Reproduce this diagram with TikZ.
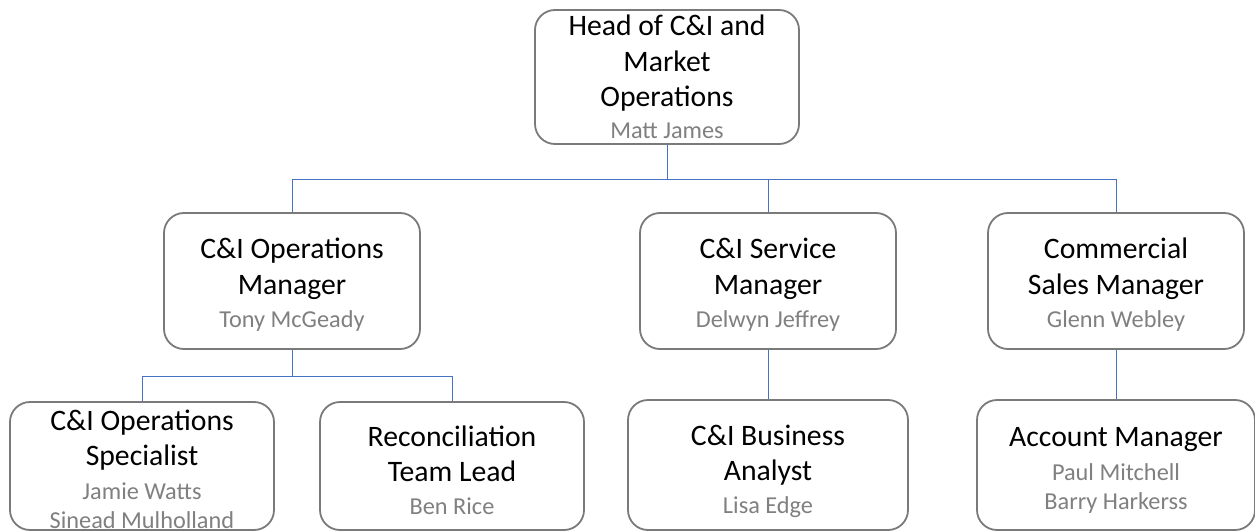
\documentclass[tikz,border=0pt]{standalone}
\usepackage{fontspec}
\setmainfont{Carlito}
\definecolor{boxgray}{HTML}{7A7A7A}
\definecolor{namegray}{HTML}{808080}
\definecolor{connblue}{HTML}{4472C4}
\tikzset{
  box/.style={draw=boxgray, line width=1.8pt, rounded corners=20pt, fill=white, inner sep=0pt},
  ttl/.style={anchor=base, inner sep=0pt, text=black, font=\fontsize{29.7}{36}\selectfont},
  nm/.style={anchor=base, inner sep=0pt, text=namegray, font=\fontsize{24.3}{28}\selectfont},
  conn/.style={draw=connblue, line width=1pt}
}
\begin{document}
\begin{tikzpicture}[x=1pt,y=-1pt]
\useasboundingbox (0,0) rectangle (1255,532);
\begin{scope}
\clip (0,0) rectangle (1255,532);
% boxes
\node[box, minimum width=264pt, minimum height=134pt] (head) at (667,77) {};
\node[box, minimum width=256pt, minimum height=136pt] (opsmgr) at (292,281) {};
\node[box, minimum width=256pt, minimum height=136pt] (svcmgr) at (768,281) {};
\node[box, minimum width=256pt, minimum height=136pt] (commgr) at (1116,281) {};
\node[box, minimum width=264pt, minimum height=128pt] (spec) at (142,466) {};
\node[box, minimum width=264pt, minimum height=128pt] (recon) at (452,466) {};
\node[box, minimum width=280pt, minimum height=130pt] (analyst) at (768,465) {};
\node[box, minimum width=278pt, minimum height=130pt] (account) at (1116,465) {};
% connectors
\coordinate (j1) at (667,179);
\coordinate (j2) at (292,376);
\draw[conn] (head.south) -- (j1);
\draw[conn] (j1) -| (opsmgr.north);
\draw[conn] (j1) -| (svcmgr.north);
\draw[conn] (j1) -| (commgr.north);
\draw[conn] (opsmgr.south) -- (j2);
\draw[conn] (j2) -| (spec.north);
\draw[conn] (j2) -| (recon.north);
\draw[conn] (svcmgr.south) -- (analyst.north);
\draw[conn] (commgr.south) -- (account.north);
% texts
\node[ttl] (headt1) at (667,36) {Head of C\&I and};
\node[ttl] (headt2) at (667,72) {Market};
\node[ttl] (headt3) at (667,107) {Operations};
\node[nm] (headn1) at (667,139) {Matt James};

\node[ttl] (opst1) at (292,258.5) {C\&I Operations};
\node[ttl] (opst2) at (292,294.5) {Manager};
\node[nm] (opsn1) at (292,327) {Tony McGeady};

\node[ttl] (svct1) at (768,258.5) {C\&I Service};
\node[ttl] (svct2) at (768,294.5) {Manager};
\node[nm] (svcn1) at (768,327) {Delwyn Jeffrey};

\node[ttl] (comt1) at (1116,258.5) {Commercial};
\node[ttl] (comt2) at (1116,294.5) {Sales Manager};
\node[nm] (comn1) at (1116,327) {Glenn Webley};

\node[ttl] (spect1) at (142,430) {C\&I Operations};
\node[ttl] (spect2) at (142,465.5) {Specialist};
\node[nm] (specn1) at (142,499) {Jamie Watts};
\node[nm] (specn2) at (142,528) {Sinead Mulholland};

\node[ttl] (rect1) at (452,446) {Reconciliation};
\node[ttl] (rect2) at (452,481.5) {Team Lead};
\node[nm] (recn1) at (452,514) {Ben Rice};

\node[ttl] (anat1) at (768,445.5) {C\&I Business};
\node[ttl] (anat2) at (768,480.5) {Analyst};
\node[nm] (anan1) at (768,513) {Lisa Edge};

\node[ttl] (acct1) at (1116,446) {Account Manager};
\node[nm] (accn1) at (1116,480) {Paul Mitchell};
\node[nm] (accn2) at (1116,509) {Barry Harkerss};
\end{scope}
\end{tikzpicture}
\end{document}
